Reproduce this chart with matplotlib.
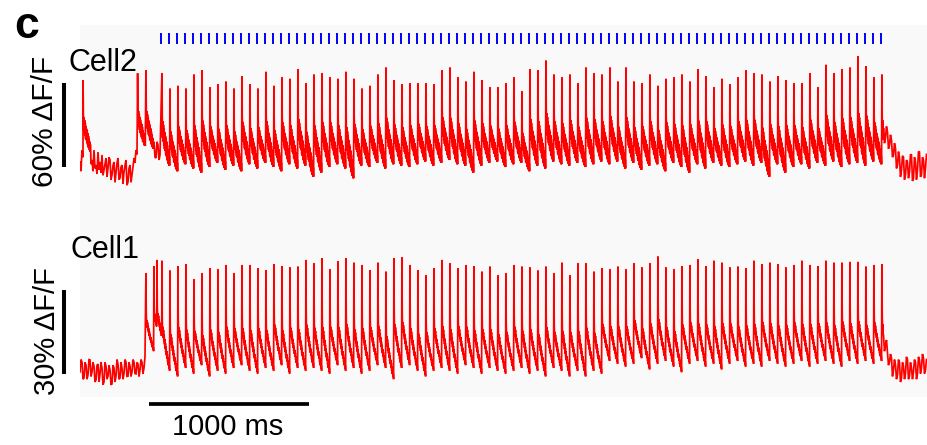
import numpy as np
import matplotlib
matplotlib.use("Agg")
import matplotlib.pyplot as plt
from matplotlib.patches import Rectangle

# ---------------- data ----------------
# stimulus train (20 Hz)
stim_onset_ms = 506
stim_period_ms = 50
n_pulses = 91
spike_latency_ms = 6
trace_end_ms = 5294
sample_ms = 6.25          # sampling of the hand-read baseline segments
post_start_ms = 5022

# Cell2 (upper trace), dF/F in %
cell2_peaks = [62, 51, 53, 51, 61, 64, 52, 54, 56, 51, 60, 54, 51, 63, 53, 59, 58, 65,
               55, 61, 62, 59, 58, 63, 58, 51, 53, 61, 66, 57, 54, 55, 55, 55, 54, 64, 66, 59,
               56, 63, 57, 52, 52, 55, 59, 49, 65, 64, 71, 61, 59, 61, 55, 66, 62,
               61, 66, 56, 66, 56, 55, 61, 53, 58, 59, 61, 56, 65, 60, 52, 58, 54, 59, 64, 62,
               61, 56, 60, 57, 55, 55, 62, 52, 68, 62, 65, 66, 74, 67, 59, 61]
cell2_troughs = [-4, -8, -3, -6, -9, -5, -2, -7, -4, -8, -3, -6, -2, -5, -8, -3, -6, -4,
                 -12, -9, -5, -3, -6, -13, -4, -5, -2, -6, -3, -4, -5, -3, -1, -4, -2, 0, -3,
                 -4, -9, -4, -2, -1, -5, -3, -2, -8, -4, -6, -1, -3, -4, -2, -5, -3, -1,
                 -3, -1, -6, -2, -7, -4, -3, -8, -2, -5, -9, -3, -6, -2, -4, -5, -3, -1, -4, -2,
                 -12, -3, -9, -5, -3, -6, -2, -4, -1, -5, -3, -2, -4, -1, -3, -2]
cell2_extra_times = [19, 360, 412]
cell2_extra_peaks = [57, 62, 64]
cell2_extra_troughs = [6, 10, 8]
cell2_pre = [-1.4, -8, 7.1, 2, 14.3, 3, 8.6, -4, 1.4, -6, 10.7, -3, 0.0, -8, 7.1, -6,
             -3.6, -10, 5.7, -7, -1.4, -9, 3.6, -11, -7.1, -3, 1.4, -12, -5.7, 2,
             0.0, -14, -10.7, -4, -1.4, -16, -8.6, -2, 1.4, -14, -12.9, -5, -3.6, -17,
             -8.6, -4, 0.0, -18, -15.7, -6, -3.6, -16, -10.7, -5, 1.4, -2, 7.1, 4,
             15.7, 2, 8.6, 18, 17.9, 3, 7.1, 16, 14.3, 1, 3.6, 12, 15.7, 0, 7.1, 14,
             12.9, 2, 1.4, 13, 10.7, 0, 3.6]
cell2_post = [22.9, 12, 15.7, 24, 20.0, 8, 10.7, 18, 14.3, 2, 3.6, 12, 8.6, -6, -3.6, 6,
              1.4, -12, -7.1, 3, 2.1, -14, -10.7, 0, -1.4, -13, -8.6, 4, 3.6, -15,
              -12.9, 2, -1.4, -14, -7.1, 6, 5.7, -12, -10.7, 2, 0.0, -13, -5.7, 4]

# Cell1 (lower trace), dF/F in %
cell1_peaks = [38.3, 34.8, 36.4, 37.1, 31.7, 33.8, 35.6, 35.2, 36.8, 33.8, 36.8, 36.8, 35.6,
               35.0, 37.1, 36.4, 35.9, 36.2,
               38.6, 37.4, 39.2, 35.2, 38.1, 39.2, 37.6, 36.8, 35.0, 37.6, 34.4, 39.2, 39.5,
               36.8, 35.0, 33.2, 35.6, 38.6, 37.4, 35.6, 36.8, 36.4, 34.4, 36.2, 33.2, 33.8,
               36.8, 36.2, 35.9, 34.8, 36.2, 33.8, 37.6, 33.2, 37.4, 37.4, 34.4,
               35.6, 35.2, 36.2, 35.2, 37.4, 35.9, 37.4, 39.8, 35.9, 35.2, 36.4, 36.8, 38.8,
               36.4, 38.3, 37.6, 35.9, 36.2, 35.6, 38.3, 37.0, 37.6, 37.1, 35.9, 36.8, 38.3,
               36.8, 36.4, 38.3, 37.6, 37.6, 37.9, 37.9, 36.2, 36.8, 37.1]
cell1_troughs = [-1, -3, 0, -2, 1, -3, -1, -2, 0, 1, -1, -2, 0, -1, 1, -2, 0, -1,
                 0, -1, -2, 1, -1, 0, -2, -1, 1, 0, -4, 0, 1, -1, -3, -1, 0, -1, -2,
                 1, 0, -2, 0, -1, -2, -1, 0, -2, -1, -3, 0, -1, -3, -1, -3, -1, -2,
                 2.5, 1.5, 0.5, 1.5, 3.5, -0.5, 1.5, 2.5, 0.5, -1.5, 1.5, 2.5, 0.5, 1.5, -0.5,
                 1.5, 2.5, 0.5, 1.5, 0.5, 2.5, 1.5, 0.5, 1.5, 2.5, 0.5, 1.5, 2.5, 1.5, 0.5,
                 2.5, 1.5, 2.5, 1.5, 2.5, 1.5]
cell1_extra_times = [412, 462, 481]
cell1_extra_peaks = [33.9, 36.4, 38.6]
cell1_extra_troughs = [6, 8, 7]
cell1_pre = [-1.4, 3, 2.1, -4, -3.6, 2, 1.1, -4, -2.5, 3, 2.9, -3, -1.4, 2, 0.7, -5,
             -4.3, 1, 1.4, -5, -2.1, 2, 0.0, -6, -5.0, 2, 0.7, -4, -2.9, 1, -0.7, -6,
             -5.7, 1, 0.0, -5, -2.9, 3, 1.4, -4, -3.6, 2, 0.0, -4, -2.1, 3, 2.1, -3,
             -2.9, 2, 0.7, -3, -1.4, 3, 2.1, -2, -2.1, 2, 1.4, -3, -0.7, 3, 2.1, -2,
             0.0, 4, 3.6, 12, 8.2, 3, 6.4, 11, 10.0, 4, 7.1, 12, 10.7, 5, 6.4, 11, 9.3]
cell1_post = [11.8, 6, 8.2, 10, 5.7, 1, 2.1, 5, 3.6, -3, -0.7, 3, 1.1, -4, -2.5, 3,
              2.1, -5, -3.6, 2, 0.7, -4, -2.1, 4, 2.9, -4, -2.9, 2, 0.0, -4, -1.4, 3,
              2.1, -4, -2.1, 4, 2.9, -2, 0.0, 5, 3.6, -2, -0.7, 3]

# average spike waveform (1 = peak, 0 = trough)
spike_shape_ms = [0, 2, 4, 6, 8, 10, 12, 14, 16, 18, 20, 22, 24, 26, 28, 30, 32, 34, 36,
                  38, 40, 42, 44, 46, 48]
cell2_shape = [1.0, 0.55, 0.30, 0.48, 0.26, 0.44, 0.22, 0.40, 0.18, 0.36, 0.16, 0.32, 0.12,
               0.30, 0.10, 0.26, 0.06, 0.22, 0.05, 0.18, 0.02, 0.14, 0.0, 0.10, 0.0]
cell1_shape = [1.0, 0.50, 0.32, 0.40, 0.30, 0.37, 0.27, 0.33, 0.24, 0.29, 0.20, 0.25, 0.17,
               0.22, 0.14, 0.18, 0.11, 0.15, 0.08, 0.12, 0.05, 0.09, 0.02, 0.05, 0.0]


def build_trace(peaks, troughs, ex_t, ex_p, ex_tr, pre, post, shape):
    shape_t = np.asarray(spike_shape_ms, float)
    shape_v = np.asarray(shape, float)
    stim_t = stim_onset_ms + spike_latency_ms + stim_period_ms * np.arange(n_pulses)
    ev_t = np.concatenate([np.asarray(ex_t, float), stim_t])
    ev_p = np.concatenate([np.asarray(ex_p, float), np.asarray(peaks, float)])
    ev_tr = np.concatenate([np.asarray(ex_tr, float), np.asarray(troughs, float)])
    order = np.argsort(ev_t)
    pts, windows = [], []
    for i, idx in enumerate(order):
        t0 = ev_t[idx]
        t_next = ev_t[order[i + 1]] if i + 1 < len(order) else post_start_ms
        win = min(t_next - t0, shape_t[-1] + 1)
        sel = shape_t < win
        tt = t0 + shape_t[sel]
        vv = ev_tr[idx] + shape_v[sel] * (ev_p[idx] - ev_tr[idx])
        pts += list(zip(tt, vv))
        windows.append((t0, t0 + win))
    pre_t = np.arange(len(pre)) * sample_ms
    post_t = post_start_ms + np.arange(len(post)) * sample_ms
    for t, v in zip(np.concatenate([pre_t, post_t]), np.concatenate([pre, post])):
        if not any(a <= t < b for a, b in windows):
            pts.append((t, v))
    pts.sort()
    arr = np.array(pts)
    return arr[:, 0], arr[:, 1]


# ---------------- figure ----------------
W, H = 927, 445
fig = plt.figure(figsize=(W / 100, H / 100), dpi=100)
fig.patch.set_facecolor("white")


def fx(x):
    return x / W


def fy(y):
    return 1 - y / H


ax2 = fig.add_axes([fx(80), fy(210), fx(927) - fx(80), fy(25) - fy(210)])
ax1 = fig.add_axes([fx(80), fy(397), fx(927) - fx(80), fy(210) - fy(397)])
for ax in (ax1, ax2):
    ax.set_xlim(0, trace_end_ms)
    ax.axis("off")
    ax.patch.set_alpha(0)
    ax.set_zorder(2)
ax2.set_ylim(-35.71, 96.43)
ax1.set_ylim(-10.36, 56.43)

# light panel background (behind the axes)
bg = Rectangle((fx(80), fy(397)), fx(927) - fx(80), fy(25) - fy(397),
               transform=fig.transFigure, facecolor="#f9f9f9", edgecolor="none", zorder=-10)
fig.add_artist(bg)

red = "#ff0000"
t2, v2 = build_trace(cell2_peaks, cell2_troughs, cell2_extra_times, cell2_extra_peaks,
                     cell2_extra_troughs, cell2_pre, cell2_post, cell2_shape)
t1, v1 = build_trace(cell1_peaks, cell1_troughs, cell1_extra_times, cell1_extra_peaks,
                     cell1_extra_troughs, cell1_pre, cell1_post, cell1_shape)
ax2.plot(t2, v2, color=red, lw=1.25, solid_joinstyle="miter")
ax1.plot(t1, v1, color=red, lw=1.25, solid_joinstyle="miter")

# stimulus ticks
tick_t = stim_onset_ms + stim_period_ms * np.arange(n_pulses)
ax2.vlines(tick_t, 82.9, 90.7, color="#0000ff", lw=1.4)

# scale bars
ax2.plot([-100, -100], [-5, 55], color="black", lw=2.9, solid_capstyle="butt", clip_on=False)
ax1.plot([-100, -100], [-2.1, 27.9], color="black", lw=2.9, solid_capstyle="butt", clip_on=False)
ax1.plot([430, 1430], [-12.9, -12.9], color="black", lw=2.7, solid_capstyle="butt", clip_on=False)

font = "Liberation Sans"
fig.text(fx(14), fy(38), "c", fontsize=32, fontweight="bold", family=font,
         ha="left", va="baseline")
fig.text(fx(68), fy(71), "Cell2", fontsize=22, family=font, ha="left", va="baseline")
fig.text(fx(70), fy(258), "Cell1", fontsize=22, family=font, ha="left", va="baseline")
fig.text(fx(45), fy(121), "60% \u0394F/F", fontsize=21.5, family=font, rotation=90,
         ha="center", va="center")
fig.text(fx(47), fy(331), "30% \u0394F/F", fontsize=21, family=font, rotation=90,
         ha="center", va="center")
fig.text(fx(228), fy(435), "1000 ms", fontsize=21, family=font, ha="center", va="baseline")

fig.savefig("out.png", dpi=100, facecolor="white")
